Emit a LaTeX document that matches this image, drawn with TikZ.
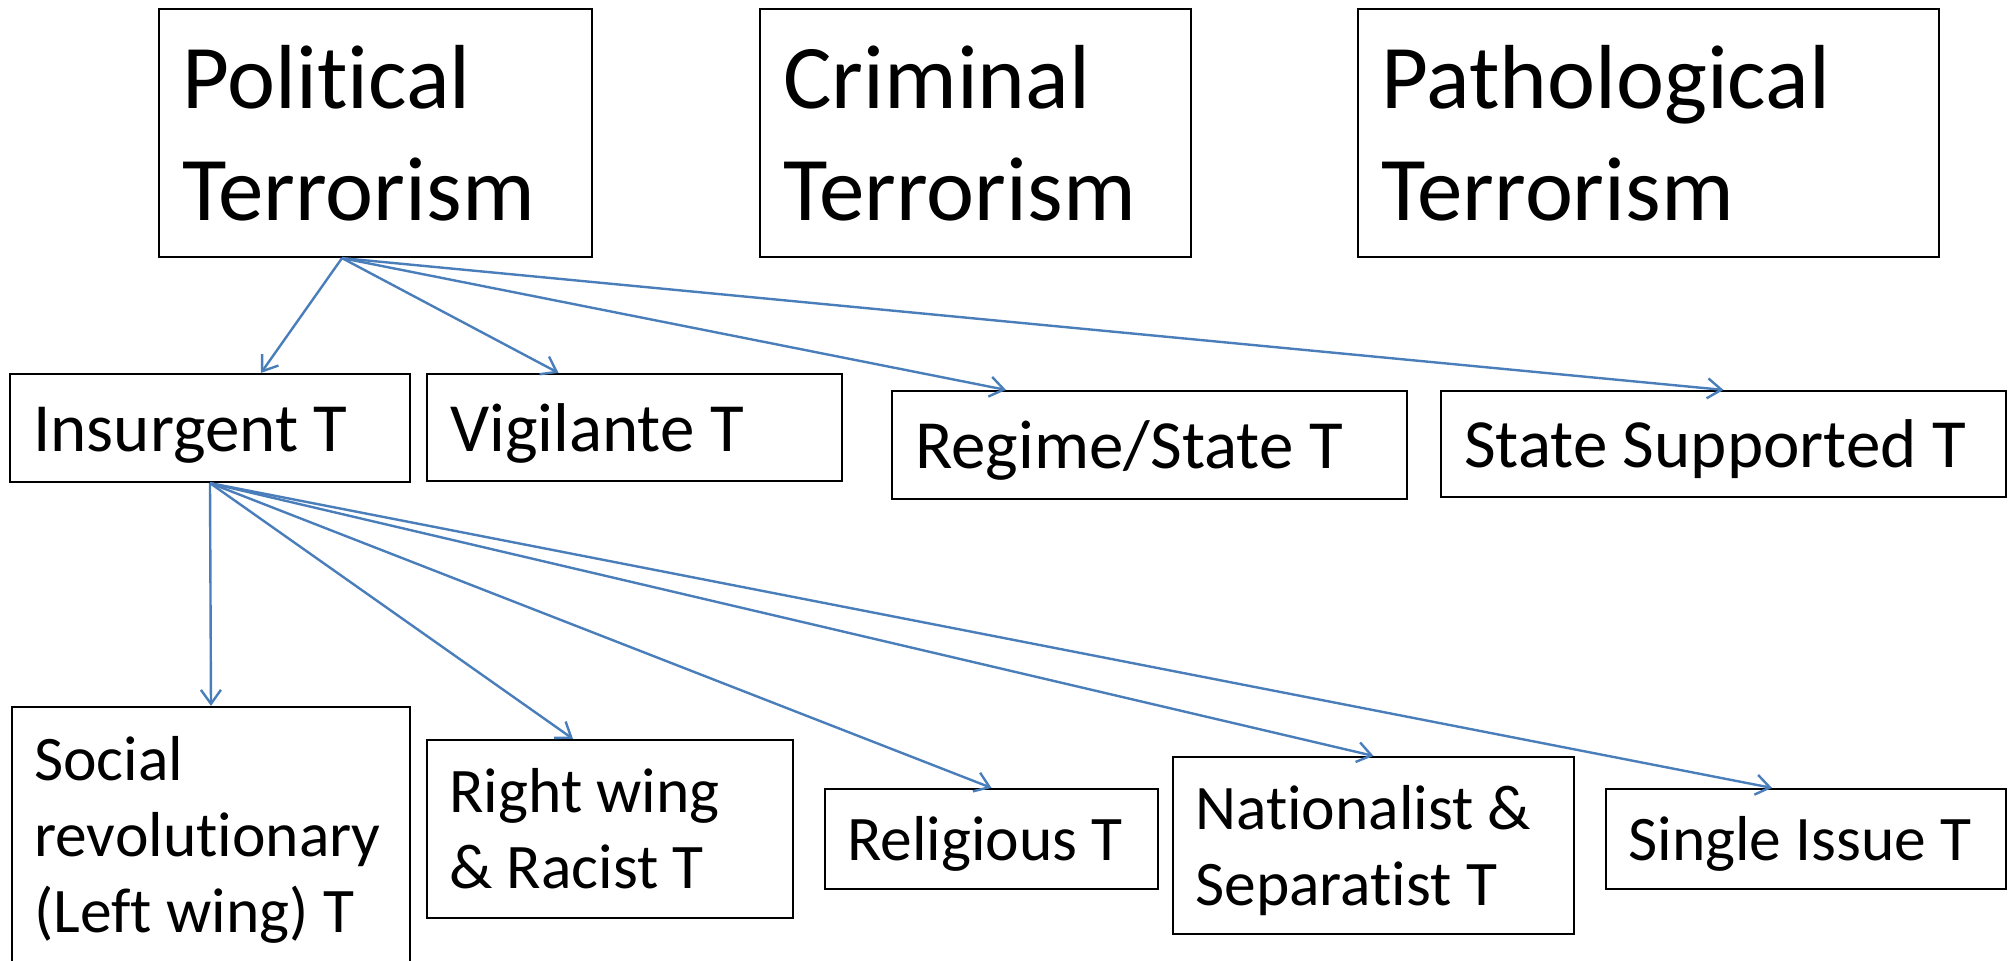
\documentclass[tikz,border=0pt]{standalone}
\usepackage{fontspec}
\setmainfont{Carlito}[Ligatures={NoCommon,NoContextual,NoRequired},RawFeature={-calt}]
\usetikzlibrary{arrows.meta}
\definecolor{conblue}{HTML}{4A7EBB}
\newcommand{\ppst}{\rule[-0.269em]{0pt}{1.221em}}
\tikzset{
  box/.style={draw=black, line width=1.1pt, inner sep=0pt, fill=white},
  bigtxt/.style={anchor=west, inner sep=0pt, align=left,
    font={\fontsize{45.5pt}{56pt}\selectfont\lineskiplimit=-100pt\lineskip=0pt}},
  midtxt/.style={anchor=west, inner sep=0pt, align=left,
    font={\fontsize{34.5pt}{38pt}\selectfont\lineskiplimit=-100pt\lineskip=0pt}},
  lowtxt/.style={anchor=west, inner sep=0pt, align=left,
    font={\fontsize{31.75pt}{38pt}\selectfont\lineskiplimit=-100pt\lineskip=0pt}},
  conn/.style={draw=conblue, line width=1.2pt, -{Straight Barb[length=7pt,width=10pt]}}
}
\begin{document}
\begin{tikzpicture}[x=0.5pt,y=-0.5pt]
\useasboundingbox (0,0) rectangle (2015,960);
\fill[white] (0,0) rectangle (2015,960);

% top row
\node[box, minimum width=216.5pt, minimum height=124pt] (pol) at (375.5,133) {};
\node[bigtxt] (polt) at ([xshift=12pt]pol.west) {\ppst Political\\\ppst Terrorism};
\node[box, minimum width=215.5pt, minimum height=124pt] (cri) at (975.5,133) {};
\node[bigtxt] (crit) at ([xshift=12pt]cri.west) {\ppst Criminal\\\ppst Terrorism};
\node[box, minimum width=290.5pt, minimum height=124pt] (pat) at (1648.5,133) {};
\node[bigtxt] (patt) at ([xshift=12pt]pat.west) {\ppst Pathological\\\ppst Terrorism};

% middle row
\node[box, minimum width=200pt, minimum height=54pt] (ins) at (210,428) {};
\node[midtxt] (inst) at ([xshift=12pt]ins.west) {\ppst Insurgent T};
\node[box, minimum width=207.5pt, minimum height=53.5pt] (vig) at (634.5,427.5) {};
\node[midtxt] (vigt) at ([xshift=12pt]vig.west) {\ppst Vigilante T};
\node[box, minimum width=257.5pt, minimum height=54pt] (reg) at (1149.5,445) {};
\node[midtxt] (regt) at ([xshift=12pt]reg.west) {\ppst Regime/State T};
\node[box, minimum width=282.5pt, minimum height=53pt] (sst) at (1723.5,444) {};
\node[midtxt] (sstt) at ([xshift=12pt]sst.west) {\ppst State Supported T};

% bottom row
\node[box, minimum width=199pt, minimum height=128pt] (soc) at (211,835) {};
\node[lowtxt] (soct) at ([xshift=11.5pt]soc.west) {\ppst Social\\\ppst revolutionary\\\ppst (Left wing) T};
\node[box, minimum width=183pt, minimum height=89pt] (rwr) at (610,829) {};
\node[lowtxt] (rwrt) at ([xshift=11.5pt]rwr.west) {\ppst Right wing\\\ppst \& Racist T};
\node[box, minimum width=166.5pt, minimum height=50pt] (rel) at (991.5,839) {};
\node[lowtxt] (relt) at ([xshift=11.5pt]rel.west) {\ppst Religious T};
\node[box, minimum width=200.5pt, minimum height=88.5pt] (nat) at (1373.5,845.5) {};
\node[lowtxt] (natt) at ([xshift=11.5pt]nat.west) {\ppst Nationalist \&\\\ppst Separatist T};
\node[box, minimum width=200pt, minimum height=50pt] (sin) at (1806,839) {};
\node[lowtxt] (sint) at ([xshift=11.5pt]sin.west) {\ppst Single Issue T};

% connectors from Political Terrorism
\coordinate (polo) at ([xshift=-16.75pt]pol.south);
\coordinate (insi) at ([xshift=25.5pt]ins.north);
\coordinate (vigi) at ([xshift=-38pt]vig.north);
\coordinate (regi) at ([xshift=-71.75pt]reg.north);
\draw[conn] (polo) -- (insi);
\draw[conn] (polo) -- (vigi);
\draw[conn] (polo) -- (regi);
\draw[conn] (polo) -- (sst.north);

% connectors from Insurgent T
\coordinate (rwri) at ([xshift=-18.5pt]rwr.north);
\coordinate (sini) at ([xshift=-17pt]sin.north);
\draw[conn] (ins.south) -- (soc.north);
\draw[conn] (ins.south) -- (rwri);
\draw[conn] (ins.south) -- (rel.north);
\draw[conn] (ins.south) -- (nat.north);
\draw[conn] (ins.south) -- (sini);
\end{tikzpicture}
\end{document}
